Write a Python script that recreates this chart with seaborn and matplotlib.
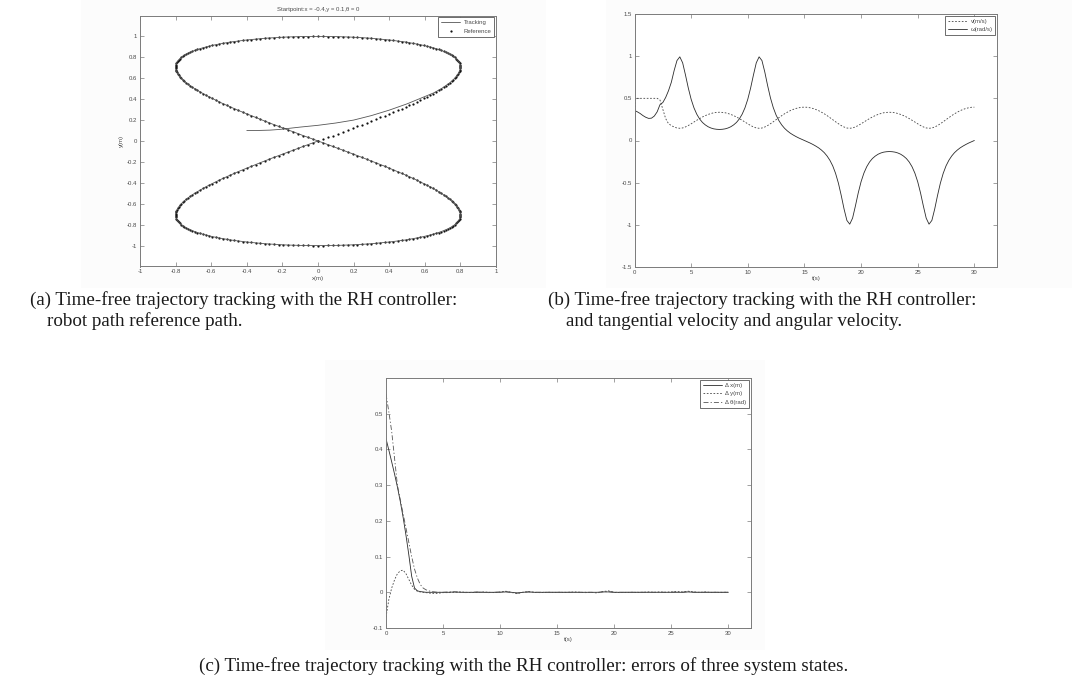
import matplotlib
matplotlib.use('Agg')
import matplotlib.pyplot as plt
from matplotlib.patches import Rectangle
import seaborn as sns

# ---------------- data: panel (a) ----------------
# reference path dots (figure-eight), one dot per degree of the path parameter
x_ref = [0, .028, .056, .084, .111, .139, .166, .194, .220, .247,
         .274, .300, .325, .351, .376, .400, .424, .447, .470, .493,
         .514, .535, .556, .575, .594, .613, .630, .647, .663, .678,
         .693, .706, .719, .731, .742, .752, .761, .769, .776, .782,
         .788, .792, .796, .798, .800, .800, .800, .798, .796, .792,
         .788, .782, .776, .769, .761, .752, .742, .731, .719, .706,
         .693, .678, .663, .647, .630, .613, .594, .575, .556, .535,
         .514, .493, .470, .447, .424, .400, .376, .351, .325, .300,
         .274, .247, .220, .194, .166, .139, .111, .084, .056, .028,
         0, -.028, -.056, -.084, -.111, -.139, -.166, -.194, -.220, -.247,
         -.274, -.300, -.325, -.351, -.376, -.400, -.424, -.447, -.470, -.493,
         -.514, -.535, -.556, -.575, -.594, -.613, -.630, -.647, -.663, -.678,
         -.693, -.706, -.719, -.731, -.742, -.752, -.761, -.769, -.776, -.782,
         -.788, -.792, -.796, -.798, -.800, -.800, -.800, -.798, -.796, -.792,
         -.788, -.782, -.776, -.769, -.761, -.752, -.742, -.731, -.719, -.706,
         -.693, -.678, -.663, -.647, -.630, -.613, -.594, -.575, -.556, -.535,
         -.514, -.493, -.470, -.447, -.424, -.400, -.376, -.351, -.325, -.300,
         -.274, -.247, -.220, -.194, -.166, -.139, -.111, -.084, -.056, -.028,
         0, .028, .056, .084, .111, .139, .166, .194, .220, .247,
         .274, .300, .325, .351, .376, .400, .424, .447, .470, .493,
         .514, .535, .556, .575, .594, .613, .630, .647, .663, .678,
         .693, .706, .719, .731, .742, .752, .761, .769, .776, .782,
         .788, .792, .796, .798, .800, .800, .800, .798, .796, .792,
         .788, .782, .776, .769, .761, .752, .742, .731, .719, .706,
         .693, .678, .663, .647, .630, .613, .594, .575, .556, .535,
         .514, .493, .470, .447, .424, .400, .376, .351, .325, .300,
         .274, .247, .220, .194, .166, .139, .111, .084, .056, .028,
         0, -.028, -.056, -.084, -.111, -.139, -.166, -.194, -.220, -.247,
         -.274, -.300, -.325, -.351, -.376, -.400, -.424, -.447, -.470, -.493,
         -.514, -.535, -.556, -.575, -.594, -.613, -.630, -.647, -.663, -.678,
         -.693, -.706, -.719, -.731, -.742, -.752, -.761, -.769, -.776, -.782,
         -.788, -.792, -.796, -.798, -.800, -.800, -.800, -.798, -.796, -.792,
         -.788, -.782, -.776, -.769, -.761, -.752, -.742, -.731, -.719, -.706,
         -.693, -.678, -.663, -.647, -.630, -.613, -.594, -.575, -.556, -.535,
         -.514, -.493, -.470, -.447, -.424, -.400, -.376, -.351, -.325, -.300,
         -.274, -.247, -.220, -.194, -.166, -.139, -.111, -.084, -.056, -.028]
y_ref = [0, .017, .035, .052, .070, .087, .105, .122, .139, .156,
         .174, .191, .208, .225, .242, .259, .276, .292, .309, .326,
         .342, .358, .375, .391, .407, .423, .438, .454, .469, .485,
         .500, .515, .530, .545, .559, .574, .588, .602, .616, .629,
         .643, .656, .669, .682, .695, .707, .719, .731, .743, .755,
         .766, .777, .788, .799, .809, .819, .829, .839, .848, .857,
         .866, .875, .883, .891, .899, .906, .914, .921, .927, .934,
         .940, .946, .951, .956, .961, .966, .970, .974, .978, .982,
         .985, .988, .990, .993, .995, .996, .998, .999, .999, 1.0,
         1.0, 1.0, .999, .999, .998, .996, .995, .993, .990, .988,
         .985, .982, .978, .974, .970, .966, .961, .956, .951, .946,
         .940, .934, .927, .921, .914, .906, .899, .891, .883, .875,
         .866, .857, .848, .839, .829, .819, .809, .799, .788, .777,
         .766, .755, .743, .731, .719, .707, .695, .682, .669, .656,
         .643, .629, .616, .602, .588, .574, .559, .545, .530, .515,
         .500, .485, .469, .454, .438, .423, .407, .391, .375, .358,
         .342, .326, .309, .292, .276, .259, .242, .225, .208, .191,
         .174, .156, .139, .122, .105, .087, .070, .052, .035, .017,
         0, -.017, -.035, -.052, -.070, -.087, -.105, -.122, -.139, -.156,
         -.174, -.191, -.208, -.225, -.242, -.259, -.276, -.292, -.309, -.326,
         -.342, -.358, -.375, -.391, -.407, -.423, -.438, -.454, -.469, -.485,
         -.500, -.515, -.530, -.545, -.559, -.574, -.588, -.602, -.616, -.629,
         -.643, -.656, -.669, -.682, -.695, -.707, -.719, -.731, -.743, -.755,
         -.766, -.777, -.788, -.799, -.809, -.819, -.829, -.839, -.848, -.857,
         -.866, -.875, -.883, -.891, -.899, -.906, -.914, -.921, -.927, -.934,
         -.940, -.946, -.951, -.956, -.961, -.966, -.970, -.974, -.978, -.982,
         -.985, -.988, -.990, -.993, -.995, -.996, -.998, -.999, -.999, -1.0,
         -1.0, -1.0, -.999, -.999, -.998, -.996, -.995, -.993, -.990, -.988,
         -.985, -.982, -.978, -.974, -.970, -.966, -.961, -.956, -.951, -.946,
         -.940, -.934, -.927, -.921, -.914, -.906, -.899, -.891, -.883, -.875,
         -.866, -.857, -.848, -.839, -.829, -.819, -.809, -.799, -.788, -.777,
         -.766, -.755, -.743, -.731, -.719, -.707, -.695, -.682, -.669, -.656,
         -.643, -.629, -.616, -.602, -.588, -.574, -.559, -.545, -.530, -.515,
         -.500, -.485, -.469, -.454, -.438, -.423, -.407, -.391, -.375, -.358,
         -.342, -.326, -.309, -.292, -.276, -.259, -.242, -.225, -.208, -.191,
         -.174, -.156, -.139, -.122, -.105, -.087, -.070, -.052, -.035, -.017]
# transient of the robot path before it joins the reference
x_trans = [-0.40, -0.33, -0.27, -0.22, -0.18, -0.10, 0.00, 0.10, 0.20, 0.30, 0.40, 0.50, 0.60, 0.65]
y_trans = [0.100, 0.101, 0.104, 0.110, 0.118, 0.133, 0.150, 0.172, 0.200, 0.243, 0.295, 0.355, 0.425, 0.460]
join_index = 30
end_x = [0.0]
end_y = [0.0]
xt_a = [-1, -0.8, -0.6, -0.4, -0.2, 0, 0.2, 0.4, 0.6, 0.8, 1]
xl_a = ['-1', '-0.8', '-0.6', '-0.4', '-0.2', '0', '0.2', '0.4', '0.6', '0.8', '1']

# ---------------- data: panel (b) ----------------
t_b = [0, 0.1, 0.25, 0.5, 0.75, 1.0, 1.25, 1.5, 1.75, 2.0, 2.25, 2.5, 2.75, 3.0, 3.25, 3.5, 3.75, 4.0,
       4.25, 4.5, 4.75, 5.0, 5.25, 5.5, 5.75, 6.0, 6.25, 6.5, 6.75, 7.0, 7.25, 7.5, 7.75, 8.0,
       8.25, 8.5, 8.75, 9.0, 9.25, 9.5, 9.75, 10.0, 10.25, 10.5, 10.75, 11.0, 11.25, 11.5, 11.75, 12.0,
       12.25, 12.5, 12.75, 13.0, 13.25, 13.5, 13.75, 14.0, 14.25, 14.5, 14.75, 15.0,
       15.25, 15.5, 15.75, 16.0, 16.25, 16.5, 16.75, 17.0, 17.25, 17.5, 17.75, 18.0,
       18.25, 18.5, 18.75, 19.0, 19.25, 19.5, 19.75, 20.0, 20.25, 20.5, 20.75, 21.0,
       21.25, 21.5, 21.75, 22.0, 22.25, 22.5, 22.75, 23.0, 23.25, 23.5, 23.75, 24.0,
       24.25, 24.5, 24.75, 25.0, 25.25, 25.5, 25.75, 26.0, 26.25, 26.5, 26.75, 27.0,
       27.25, 27.5, 27.75, 28.0, 28.25, 28.5, 28.75, 29.0, 29.25, 29.5, 29.75, 30.0]
v_b = [0.0, 0.5, 0.5, 0.5, 0.5, 0.5, 0.5, 0.5, 0.5, 0.5, 0.48, 0.37, 0.26, 0.20, 0.177, 0.160, 0.148, 0.145,
       .149, .161, .178, .198, .219, .240, .260, .279, .295, .309, .320, .329, .333, .335, .333, .329,
       .320, .309, .295, .279, .260, .240, .219, .198, .178, .161, .149, .145, .148, .160, .177, .199,
       .222, .247, .271, .295, .317, .336, .354, .368, .380, .388, .394, .395,
       .394, .388, .380, .368, .354, .336, .317, .295, .271, .247, .222, .199,
       .177, .160, .148, .145, .149, .161, .178, .198, .219, .240, .260, .279,
       .295, .309, .320, .329, .333, .335, .333, .329, .320, .309, .295, .279,
       .260, .240, .219, .198, .178, .161, .149, .145, .148, .160, .177, .199,
       .222, .247, .271, .295, .317, .336, .354, .368, .380, .388, .394, .395]
w_b = [0.03, 0.35, 0.34, 0.32, 0.295, 0.275, 0.262, 0.265, 0.29, 0.34, 0.425, 0.45, 0.51, 0.59, 0.69, 0.83, 0.948, 0.992,
       .921, .777, .622, .489, .387, .311, .255, .214, .185, .163, .148, .138, .133, .131, .133, .138,
       .148, .163, .185, .214, .255, .311, .387, .489, .622, .777, .921, .992, .948, .813, .652, .506,
       .390, .301, .235, .184, .144, .113, .087, .066, .047, .030, .015, 0.0,
       -.015, -.030, -.047, -.066, -.087, -.113, -.144, -.184, -.235, -.301, -.390, -.506,
       -.652, -.813, -.948, -.992, -.921, -.777, -.622, -.489, -.387, -.311, -.255, -.214,
       -.185, -.163, -.148, -.138, -.133, -.131, -.133, -.138, -.148, -.163, -.185, -.214,
       -.255, -.311, -.387, -.489, -.622, -.777, -.921, -.992, -.948, -.813, -.652, -.506,
       -.390, -.301, -.235, -.184, -.144, -.113, -.087, -.066, -.047, -.030, -.015, 0.0]
xt_b = [0, 5, 10, 15, 20, 25, 30]
xl_b = ['0', '5', '10', '15', '20', '25', '30']
yt_b = [-1.5, -1, -0.5, 0, 0.5, 1, 1.5]
yl_b = ['-1.5', '-1', '-0.5', '0', '0.5', '1', '1.5']

# ---------------- data: panel (c) ----------------
t_c = [0, 0.25, 0.5, 0.75, 1.0, 1.25, 1.5, 1.75, 2.0, 2.25, 2.5, 2.75, 3.0, 3.25, 3.5, 3.75, 4.0, 4.25, 4.5, 4.75, 5.0,
       5.5, 6.0, 6.5, 7.0, 7.5, 8.0, 8.5, 9.0, 9.5, 10.0, 10.5, 11.0, 11.5, 12.0, 12.5, 13.0, 13.5, 14.0, 14.5, 15.0,
       15.5, 16.0, 16.5, 17.0, 17.5, 18.0, 18.5, 19.0, 19.5, 20.0, 20.5, 21.0, 21.5, 22.0, 22.5, 23.0, 23.5, 24.0,
       24.5, 25.0, 25.5, 26.0, 26.5, 27.0, 27.5, 28.0, 28.5, 29.0, 29.5, 30.0]
dx_c = [0.430, 0.398, 0.365, 0.331, 0.295, 0.255, 0.210, 0.160, 0.105, 0.045, 0.012, 0.004, 0.002, 0.001, 0.0, 0.0,
        0.0, 0.0, 0.0, 0.0, 0.0,
        0.0, 0.001, 0.0, 0.0, 0.0, 0.0, 0.0, 0.0, 0.0, 0.0, 0.001, 0.0, -0.002, 0.0, 0.001, 0.0, 0.0, 0.0, 0.0, 0.0,
        0.0, 0.0, 0.0, 0.0, 0.0, 0.0, 0.0, 0.001, 0.001, 0.0, 0.0, 0.0, 0.0, 0.0, 0.0, 0.0, 0.0, 0.0,
        0.0, 0.0, 0.0, 0.0, 0.001, 0.0, 0.0, 0.0, 0.0, 0.0, 0.0, 0.0]
dy_c = [-0.070, -0.020, 0.012, 0.035, 0.052, 0.060, 0.062, 0.052, 0.036, 0.020, 0.008, 0.003, 0.001, 0.0, -0.001,
        -0.002, -0.003, -0.003, -0.003, -0.002, -0.001,
        -0.001, 0.0, 0.001, 0.0, -0.001, 0.0, 0.001, 0.0, -0.001, 0.001, 0.003, 0.0, -0.004, 0.0, 0.002, 0.0, -0.001,
        0.0, 0.0, 0.0,
        0.0, 0.0, 0.001, 0.0, -0.001, 0.0, -0.002, 0.002, 0.004, 0.0, -0.001, 0.0, 0.0, 0.0, 0.0, 0.001, 0.0, 0.001,
        0.0, 0.001, 0.002, 0.001, 0.003, 0.001, 0.0, 0.001, 0.0, 0.0, 0.0, 0.0]
dth_c = [0.555, 0.505, 0.450, 0.375, 0.300, 0.260, 0.220, 0.180, 0.140, 0.100, 0.065, 0.040, 0.022, 0.012, 0.007,
         0.004, 0.002, 0.001, 0.0, 0.0, 0.0,
         0.001, 0.001, 0.0, -0.001, 0.0, 0.001, 0.0, -0.001, 0.0, 0.001, 0.002, -0.001, -0.002, 0.0, 0.001, 0.0, 0.0,
         0.0, 0.0, 0.0,
         0.0, 0.0, 0.0, 0.0, 0.0, 0.0, -0.001, 0.001, 0.002, 0.0, 0.0, 0.0, 0.0, 0.0, 0.0, 0.0, 0.0, 0.0,
         0.0, 0.0, 0.001, 0.0, 0.002, 0.0, 0.0, 0.0, 0.0, 0.0, 0.0, 0.0]
yt_c = [-0.1, 0, 0.1, 0.2, 0.3, 0.4, 0.5]
yl_c = ['-0.1', '0', '0.1', '0.2', '0.3', '0.4', '0.5']

# ---------------- captions ----------------
cap_a = ["(a) Time-free trajectory tracking with the RH controller:", "robot path reference path."]
cap_b = ["(b) Time-free trajectory tracking with the RH controller:", "and tangential velocity and angular velocity."]
cap_c = "(c) Time-free trajectory tracking with the RH controller: errors of three system states."

# ---------------- drawing ----------------
sns.set_theme(style='white')
plt.rcParams['font.family'] = ['Liberation Sans', 'DejaVu Sans']
plt.rcParams['axes.unicode_minus'] = False

W, H = 1072, 695
fig = plt.figure(figsize=(W / 100, H / 100), dpi=100)
fig.patch.set_facecolor('white')


def box(l, t, r, b):
    return [l / W, 1 - b / H, (r - l) / W, (b - t) / H]


# very faint backgrounds of the three embedded figure images
for (l, t, r, b) in [(81, 0, 546, 288), (606, 0, 1072, 288), (325, 360, 765, 650)]:
    fig.add_artist(Rectangle((l / W, 1 - b / H), (r - l) / W, (b - t) / H, transform=fig.transFigure,
                             facecolor='#fcfcfc', edgecolor='none', zorder=-5))

LINE = '#2b2b2b'
FRAME = '#7a7a7a'
TXT = '#4a4a4a'
FS = 4.3


def style(ax):
    ax.set_facecolor('white')
    for sp in ax.spines.values():
        sp.set_color(FRAME)
        sp.set_linewidth(0.7)
        sp.set_visible(True)
    ax.tick_params(direction='in', length=3, width=0.5, colors=FRAME, labelcolor=TXT,
                   labelsize=FS, top=True, right=True, bottom=True, left=True, pad=2)
    ax.grid(False)


def legend(ax):
    leg = ax.legend(loc='upper right', fontsize=FS, frameon=True, fancybox=False, framealpha=1,
                    edgecolor='#555555', handlelength=3.2, borderpad=0.45, labelspacing=0.6,
                    handletextpad=0.6, borderaxespad=0.3)
    leg.get_frame().set_linewidth(0.6)
    for t in leg.get_texts():
        t.set_color(TXT)


# panel (a)
axA = fig.add_axes(box(140, 15.5, 496, 266.5))
x_track = x_trans + x_ref[join_index:] + end_x
y_track = y_trans + y_ref[join_index:] + end_y
sns.lineplot(x=x_track, y=y_track, ax=axA, sort=False, estimator=None, color='#555555',
             linewidth=0.6, label='Tracking')
sns.scatterplot(x=x_ref, y=y_ref, ax=axA, color='#111111', s=2.6, marker='o', linewidth=0,
                label='Reference')
axA.set_xlim(-1, 1)
axA.set_ylim(-1.2, 1.2)
axA.set_xticks(xt_a)
axA.set_xticklabels(xl_a)
axA.set_yticks(xt_a)
axA.set_yticklabels(xl_a)
style(axA)
axA.set_xlabel('x(m)', fontsize=FS, color=TXT, labelpad=1)
axA.set_ylabel('y(m)', fontsize=FS, color=TXT, labelpad=2)
axA.set_title('Startpoint:x = -0.4,y = 0.1,θ = 0', fontsize=FS, color=TXT, pad=3)
legend(axA)

# panel (b)
axB = fig.add_axes(box(634.5, 14, 997, 267))
sns.lineplot(x=t_b, y=v_b, ax=axB, sort=False, estimator=None, color='#444444',
             linewidth=0.6, linestyle=(0, (2, 2)), label='v(m/s)')
sns.lineplot(x=t_b, y=w_b, ax=axB, sort=False, estimator=None, color=LINE,
             linewidth=0.6, label='ω(rad/s)')
axB.set_xlim(0, 32)
axB.set_ylim(-1.5, 1.5)
axB.set_xticks(xt_b)
axB.set_xticklabels(xl_b)
axB.set_yticks(yt_b)
axB.set_yticklabels(yl_b)
style(axB)
axB.set_xlabel('t(s)', fontsize=FS, color=TXT, labelpad=1)
axB.set_ylabel('')
legend(axB)

# panel (c)
axC = fig.add_axes(box(386, 378, 751, 628))
sns.lineplot(x=t_c, y=dx_c, ax=axC, sort=False, estimator=None, color=LINE,
             linewidth=0.6, label='Δ x(m)')
sns.lineplot(x=t_c, y=dy_c, ax=axC, sort=False, estimator=None, color='#444444',
             linewidth=0.6, linestyle=(0, (2, 2)), label='Δ y(m)')
sns.lineplot(x=t_c, y=dth_c, ax=axC, sort=False, estimator=None, color='#555555',
             linewidth=0.6, linestyle=(0, (6, 2.5, 1.5, 2.5)), label='Δ θ(rad)')
axC.set_xlim(0, 32)
axC.set_ylim(-0.1, 0.6)
axC.set_xticks(xt_b)
axC.set_xticklabels(xl_b)
axC.set_yticks(yt_c)
axC.set_yticklabels(yl_c)
style(axC)
axC.set_xlabel('t(s)', fontsize=FS, color=TXT, labelpad=1)
axC.set_ylabel('')
legend(axC)

# captions
CAP = dict(fontsize=13.7, color='#1a1a1a', family=['Liberation Serif', 'DejaVu Serif'], va='baseline')
fig.text(30 / W, 1 - 305 / H, cap_a[0], **CAP)
fig.text(47 / W, 1 - 326 / H, cap_a[1], **CAP)
fig.text(548 / W, 1 - 305 / H, cap_b[0], **CAP)
fig.text(566 / W, 1 - 326 / H, cap_b[1], **CAP)
fig.text(524 / W, 1 - 671 / H, cap_c, ha='center', **CAP)

fig.savefig('out.png', dpi=100, facecolor='white')
